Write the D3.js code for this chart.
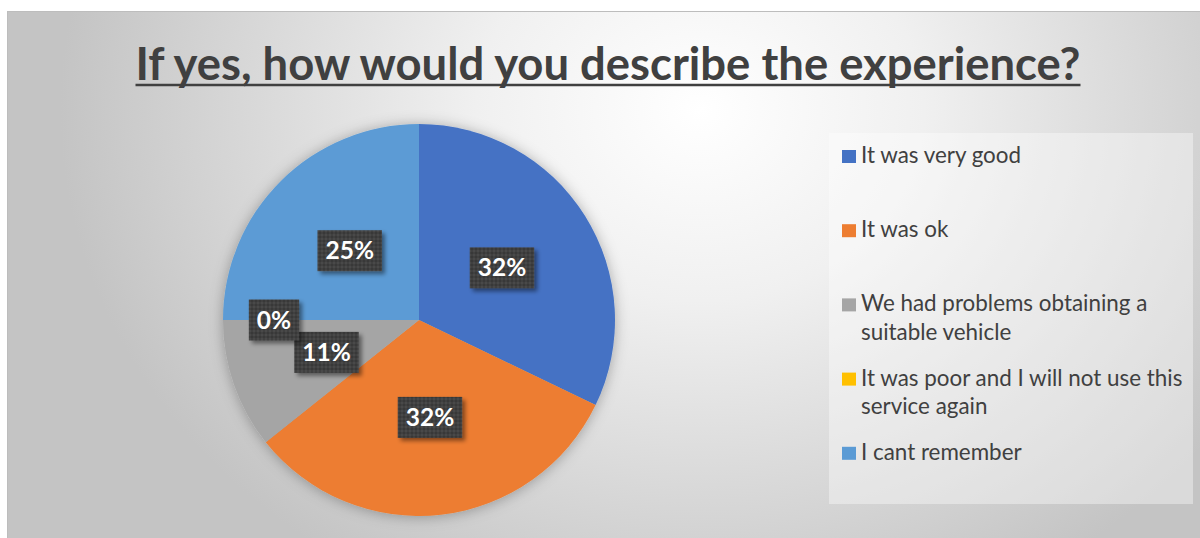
<!DOCTYPE html>
<html>
<head>
<meta charset="utf-8">
<script src="https://cdn.jsdelivr.net/npm/d3@7/dist/d3.min.js"></script>
<style>
  html, body { margin: 0; padding: 0; background: #ffffff; }
  svg { display: block; }
</style>
</head>
<body>
<svg id="chart" width="1200" height="538"></svg>
<script>
// Survey answers: "If yes, how would you describe the experience?"
const categories = [
  "It was very good",
  "It was ok",
  "We had problems obtaining a suitable vehicle",
  "It was poor and I will not use this service again",
  "I cant remember"
];
const responses = [9, 9, 3, 0, 7];
const sliceColors = ["#4472C4", "#ED7D31", "#A5A5A5", "#FFC000", "#5B9BD5"];
const titleText = "If yes, how would you describe the experience?";

const W = 1200, H = 538;
const svg = d3.select("#chart");
const defs = svg.append("defs");

// Background gradient of the chart area
const bg = defs.append("radialGradient")
  .attr("id", "bgGrad")
  .attr("gradientUnits", "userSpaceOnUse")
  .attr("cx", 700).attr("cy", 110).attr("r", 640)
  .attr("gradientTransform", "translate(700,110) scale(1,0.85) translate(-700,-110)");
bg.append("stop").attr("offset", 0).attr("stop-color", "#ffffff");
bg.append("stop").attr("offset", 0.35).attr("stop-color", "#f0f0f0");
bg.append("stop").attr("offset", 1).attr("stop-color", "#c4c4c4");

// Soft shadow around the pie
const pieShadow = defs.append("filter").attr("id", "pieShadow")
  .attr("x", "-20%").attr("y", "-20%").attr("width", "140%").attr("height", "140%");
pieShadow.append("feDropShadow")
  .attr("dx", 0).attr("dy", 1).attr("stdDeviation", 7)
  .attr("flood-color", "#000").attr("flood-opacity", 0.3);

// Shadow under the data-label boxes
const boxShadow = defs.append("filter").attr("id", "boxShadow")
  .attr("x", "-30%").attr("y", "-30%").attr("width", "160%").attr("height", "160%");
boxShadow.append("feDropShadow")
  .attr("dx", 3).attr("dy", 3).attr("stdDeviation", 2)
  .attr("flood-color", "#000").attr("flood-opacity", 0.45);

// Fine texture of the label boxes
const tex = defs.append("pattern").attr("id", "boxTex")
  .attr("patternUnits", "userSpaceOnUse").attr("width", 4).attr("height", 4);
tex.append("rect").attr("width", 4).attr("height", 4).attr("fill", "#414141");
tex.append("rect").attr("width", 2).attr("height", 2).attr("fill", "#383838");
tex.append("rect").attr("x", 2).attr("y", 2).attr("width", 2).attr("height", 2).attr("fill", "#4a4a4a");

// Chart area
const area = { x: 7, y: 11, w: W - 7 + 1, h: H - 11 + 1 };
svg.append("rect")
  .attr("x", area.x + 0.5).attr("y", area.y + 0.5)
  .attr("width", area.w).attr("height", area.h)
  .attr("fill", "url(#bgGrad)")
  .attr("stroke", "#bdbdbd").attr("stroke-width", 1);

// Title
const title = svg.append("text")
  .attr("x", 608).attr("y", 80)
  .attr("text-anchor", "middle")
  .attr("font-family", "Lato, 'Open Sans', sans-serif")
  .attr("font-weight", 700)
  .attr("font-size", 45.4)
  .attr("fill", "#404040")
  .text(titleText);
const tb = title.node().getBBox();
svg.append("line")
  .attr("x1", tb.x).attr("x2", tb.x + tb.width)
  .attr("y1", 85).attr("y2", 85)
  .attr("stroke", "#404040").attr("stroke-width", 2.5);

// Pie
const cx = 419, cy = 320, R = 196;
const pie = d3.pie().sort(null).value(d => d)(responses);
const arc = d3.arc().innerRadius(0).outerRadius(R);
const total = d3.sum(responses);

const g = svg.append("g").attr("transform", `translate(${cx},${cy})`);
g.append("g").attr("filter", "url(#pieShadow)")
  .selectAll("path")
  .data(pie)
  .join("path")
  .attr("d", arc)
  .attr("fill", (d, i) => sliceColors[i]);

// Data labels, pushed outward when they would overlap an earlier label
const labelFont = "Lato, 'Open Sans', sans-serif";
const placed = [];
const labelLayer = g.append("g");
pie.forEach((d, i) => {
  const txt = Math.round(d.data / total * 100) + "%";
  const t = labelLayer.append("text")
    .attr("font-family", labelFont)
    .attr("font-weight", 700)
    .attr("font-size", 24.5)
    .attr("fill", "#ffffff")
    .attr("text-anchor", "middle")
    .text(txt);
  const tw = t.node().getComputedTextLength();
  const bw = tw + 16, bh = 41;
  const a = (d.startAngle + d.endAngle) / 2;
  let r = R * 0.5;
  const boxAt = rr => ({
    x: Math.sin(a) * rr - bw / 2,
    y: -Math.cos(a) * rr - bh / 2,
    w: bw, h: bh
  });
  const overlap = (p, q) => {
    const ox = Math.min(p.x + p.w, q.x + q.w) - Math.max(p.x, q.x);
    const oy = Math.min(p.y + p.h, q.y + q.h) - Math.max(p.y, q.y);
    return ox > 5 && oy > 5;
  };
  let box = boxAt(r);
  while (placed.some(p => overlap(p, box)) && r < R * 1.2) {
    r += 1;
    box = boxAt(r);
  }
  placed.push(box);
  labelLayer.insert("rect", "text:last-child")
    .attr("x", box.x).attr("y", box.y)
    .attr("width", box.w).attr("height", box.h)
    .attr("fill", "url(#boxTex)")
    .attr("filter", "url(#boxShadow)");
  t.attr("x", box.x + box.w / 2).attr("y", box.y + box.h / 2 + 8.5).raise();
});

// Legend
const lg = { x: 829, y: 133, w: 364, h: 371 };
svg.append("rect")
  .attr("x", lg.x).attr("y", lg.y).attr("width", lg.w).attr("height", lg.h)
  .attr("fill", "#ffffff").attr("fill-opacity", 0.38);

const slot = lg.h / categories.length;
const textX = 861, lineH = 28.5, maxW = lg.x + lg.w - textX - 1;
const legend = svg.append("g");
categories.forEach((name, i) => {
  const base = lg.y + i * slot + 30;
  legend.append("rect")
    .attr("x", 842).attr("y", base - 13)
    .attr("width", 14).attr("height", 13)
    .attr("fill", sliceColors[i]);
  const t = legend.append("text")
    .attr("x", textX).attr("y", base)
    .attr("font-family", "Lato, 'Open Sans', sans-serif")
    .attr("font-size", 22.4)
    .attr("fill", "#404040");
  // word wrap inside the legend box
  const words = name.split(" ");
  let line = [];
  let tspan = t.append("tspan").attr("x", textX).attr("y", base);
  let ln = 0;
  words.forEach(w => {
    line.push(w);
    tspan.text(line.join(" "));
    if (tspan.node().getComputedTextLength() > maxW && line.length > 1) {
      line.pop();
      tspan.text(line.join(" "));
      line = [w];
      ln += 1;
      tspan = t.append("tspan").attr("x", textX).attr("y", base + ln * lineH).text(w);
    }
  });
});
</script>
</body>
</html>
